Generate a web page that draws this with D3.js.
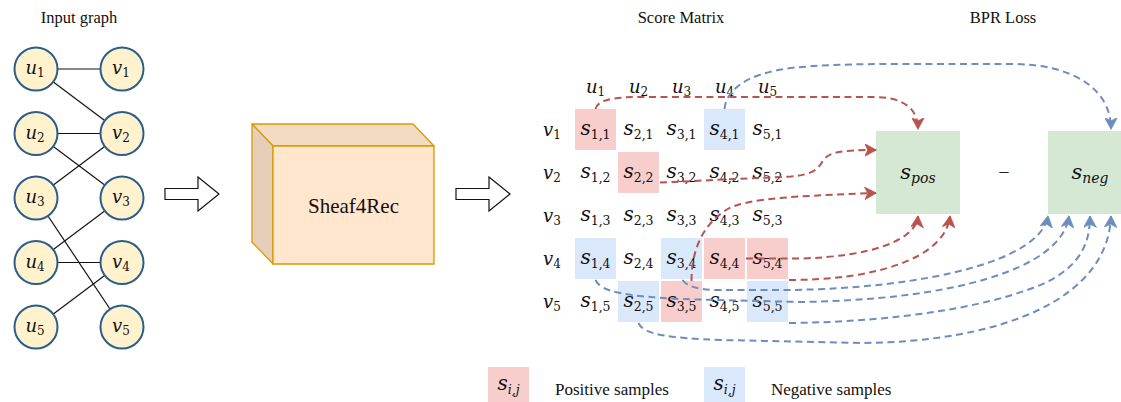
<!DOCTYPE html>
<html><head><meta charset="utf-8">
<script src="https://cdn.jsdelivr.net/npm/d3@7"></script>
<style>body{margin:0;background:#fff}svg{display:block}</style>
</head><body>
<svg id="c" width="1121" height="402"></svg>
<script>
// ---------------- data ----------------
const users = [1, 2, 3, 4, 5];
const items = [1, 2, 3, 4, 5];
const graphEdges = [[1,1],[1,2],[2,2],[2,3],[3,2],[3,5],[4,3],[4,4],[5,4]]; // [user, item]
const positiveCells = [[1,1],[2,2],[4,4],[5,4],[3,5]]; // [user i, item j]
const negativeCells = [[4,1],[1,4],[3,4],[2,5],[5,5]];
const panelTitles = ["Input graph", "Score Matrix", "BPR Loss"];
const modelName = "Sheaf4Rec";
const legendLabels = ["Positive samples", "Negative samples"];
const lossTerms = ["pos", "neg"];

(function () {
// ---------------- setup ----------------
const svg = d3.select("#c");
const SERIF = "'Liberation Serif','Times New Roman',serif";
const MATH = "'DejaVu Serif',serif";
const RED = "#b85450", BLUE = "#6c8ebf";
const PINK = "#f8cecc", LBLUE = "#dae8fc", GREEN = "#d5e8d4";

function mathText(g, x, y, base, sub, o = {}) {
  const fs = o.fs || 20, sfs = o.sfs || 12.5;
  const t = g.append("text").attr("x", x).attr("y", y)
    .attr("text-anchor", o.anchor || "middle")
    .attr("font-family", MATH).attr("fill", "#111");
  t.append("tspan").attr("font-style", "italic").attr("font-size", fs).text(base);
  if (sub != null) {
    t.append("tspan").attr("font-style", o.subItalic ? "italic" : "normal")
      .attr("font-size", sfs).attr("dy", o.sdy || 4).text(sub);
  }
  return t;
}

// titles
const titleX = [79, 681, 1003];
svg.selectAll("text.title").data(panelTitles).join("text")
  .attr("class", "title").attr("x", (d, i) => titleX[i]).attr("y", 23)
  .attr("text-anchor", "middle").attr("font-family", SERIF)
  .attr("font-size", 16.5).attr("fill", "#111").text(d => d);

// ---------------- input graph ----------------
const sideX = d3.scalePoint().domain(["u", "v"]).range([36, 122]);
const yNode = d3.scalePoint().domain(users).range([69, 327]);
const gGraph = svg.append("g");
gGraph.selectAll("line").data(graphEdges).join("line")
  .attr("x1", sideX("u")).attr("y1", d => yNode(d[0]))
  .attr("x2", sideX("v")).attr("y2", d => yNode(d[1]))
  .attr("stroke", "#111").attr("stroke-width", 1.2);
const nodes = users.map(u => ({s: "u", k: u})).concat(items.map(v => ({s: "v", k: v})));
gGraph.selectAll("circle").data(nodes).join("circle")
  .attr("cx", d => sideX(d.s)).attr("cy", d => yNode(d.k)).attr("r", 21.5)
  .attr("fill", "#fff2cc").attr("stroke", "#2b5d8c").attr("stroke-width", 2);
nodes.forEach(d => mathText(gGraph, sideX(d.s) - 1, yNode(d.k) + 5, d.s, d.k, {fs: 18, sfs: 12, sdy: 3}));

// ---------------- block arrows ----------------
const blockArrowX = [165, 456];
const arrowY = 194;
blockArrowX.forEach(x0 => {
  const pts = [[x0, arrowY - 5.5], [x0 + 33, arrowY - 5.5], [x0 + 33, arrowY - 17], [x0 + 54, arrowY],
               [x0 + 33, arrowY + 17], [x0 + 33, arrowY + 5.5], [x0, arrowY + 5.5]];
  svg.append("polygon").attr("points", pts.map(p => p.join(",")).join(" "))
    .attr("fill", "#fff").attr("stroke", "#111").attr("stroke-width", 1.2);
});

// ---------------- cube ----------------
const c = {x: 273, y: 146, w: 161, h: 118, dx: 21, dy: 22};
const gc = svg.append("g").attr("stroke", "#d79b00").attr("stroke-width", 1.3).attr("stroke-linejoin", "round");
gc.append("polygon").attr("fill", "#f2dbc2").attr("points",
  [[c.x - c.dx, c.y - c.dy], [c.x + c.w - c.dx, c.y - c.dy], [c.x + c.w, c.y], [c.x, c.y]].map(p => p.join(",")).join(" "));
gc.append("polygon").attr("fill", "#e6cfb8").attr("points",
  [[c.x - c.dx, c.y - c.dy], [c.x, c.y], [c.x, c.y + c.h], [c.x - c.dx, c.y + c.h - c.dy]].map(p => p.join(",")).join(" "));
gc.append("rect").attr("x", c.x).attr("y", c.y).attr("width", c.w).attr("height", c.h).attr("fill", "#ffe6cc");
svg.append("text").attr("x", c.x + c.w / 2).attr("y", c.y + c.h / 2 + 8)
  .attr("text-anchor", "middle").attr("font-family", SERIF).attr("font-size", 21)
  .attr("fill", "#111").text(modelName);

// ---------------- score matrix ----------------
const xCell = d3.scaleBand().domain(users).range([574, 789]);
const yCell = d3.scaleBand().domain(items).range([108, 323]);
const bw = xCell.bandwidth(), bh = yCell.bandwidth();
const gm = svg.append("g");
const cellRects = positiveCells.map(d => ({d, c: PINK})).concat(negativeCells.map(d => ({d, c: LBLUE})));
gm.selectAll("rect").data(cellRects).join("rect")
  .attr("x", o => xCell(o.d[0]) + 1).attr("y", o => yCell(o.d[1]) + 1)
  .attr("width", bw - 2).attr("height", bh - 2).attr("fill", o => o.c);

// loss boxes
const boxes = {
  pos: {x: 876, y: 131, w: 84, h: 83},
  neg: {x: 1048, y: 131, w: 84, h: 83}
};
lossTerms.forEach(k => {
  const b = boxes[k];
  svg.append("rect").attr("x", b.x).attr("y", b.y).attr("width", b.w).attr("height", b.h).attr("fill", GREEN);
});

// connectors
const defs = svg.append("defs");
[["r", RED], ["b", BLUE]].forEach(([id, col]) => {
  defs.append("marker").attr("id", "m" + id).attr("markerUnits", "userSpaceOnUse")
    .attr("viewBox", "0 0 12 13").attr("markerWidth", 12).attr("markerHeight", 13)
    .attr("refX", 11.5).attr("refY", 6.5).attr("orient", "auto")
    .append("path").attr("d", "M0,0 L12,6.5 L0,13 L3.2,6.5 Z").attr("fill", col).attr("stroke", col).attr("stroke-width", 0.6);
});
const cX = u => xCell(u) + bw / 2, cY = v => yCell(v) + bh / 2;
const cTop = v => yCell(v) + 1, cBot = v => yCell(v) + bh, cRight = u => xCell(u) + bw;
const P = boxes.pos, N = boxes.neg;
const redLinks = [
  (() => { const s = [cX(1), cTop(1)], e = [P.x + P.w / 2, P.y - 2], ln = 97;
    return `M${s} C${s[0]+2},${ln+3} ${s[0]+17},${ln} ${s[0]+45},${ln} L${e[0]-45},${ln} C${e[0]-14},${ln} ${e[0]},${ln+12} ${e[0]},${e[1]}`; })(),
  (() => { const s = [cRight(2), cY(2) + 10], e = [P.x, P.y + 19];
    return `M${s} L${s[0]+131},${s[1]-6} C${s[0]+153},${s[1]-8} ${s[0]+158},${s[1]-13} ${s[0]+163},${s[1]-22} C${s[0]+169},${e[1]+2} ${s[0]+181},${e[1]} ${e}`; })(),
  (() => { const s = [cX(3) + 10, yCell(5) + 1], e = [P.x, P.y + 62];
    return `M${s} C${s[0]},${s[1]-26} ${s[0]+8},${s[1]-56} ${s[0]+38},${s[1]-73} C${s[0]+58},${e[1]+6} ${s[0]+98},${e[1]+3} ${e}`; })(),
  (() => { const s = [cRight(4), cY(4)], e = [P.x + P.w / 2, P.y + P.h + 2];
    return `M${s} L${s[0]+55},${s[1]} C${s[0]+125},${s[1]-2} ${e[0]-2},${s[1]-18} ${e}`; })(),
  (() => { const s = [cRight(5), cBot(4)], e = [P.x + 74, P.y + P.h + 2];
    return `M${s} C${s[0]+82},${s[1]} ${e[0]-5},${s[1]-20} ${e}`; })()
];
const slot = k => N.x + k * N.w / 4;
const blueLinks = [
  (() => { const s = [cX(4), cTop(1)], e = [slot(3), N.y - 2], ln = 64;
    return `M${s} C${s[0]+2},${s[1]-19} ${s[0]+21},${ln+10} ${s[0]+66},${ln+4} C${s[0]+96},${ln+1} ${s[0]+126},${ln} ${s[0]+176},${ln} L${e[0]-100},${ln} C${e[0]-36},${ln} ${e[0]},${ln+26} ${e}`; })(),
  (() => { const s = [cX(3) + 1, cBot(4)], e = [slot(0), N.y + N.h + 2];
    return `M${s} C${s[0]+5},${s[1]+7} ${s[0]+17},${s[1]+10} ${s[0]+37},${s[1]+10} L${s[0]+107},${s[1]+10} C${s[0]+247},${s[1]+8} ${e[0]-7},${s[1]-20} ${e}`; })(),
  (() => { const s = [cX(1), cBot(4)], e = [slot(1), N.y + N.h + 2];
    return `M${s} C${s[0]+6},${s[1]+13} ${s[0]+34},${s[1]+16} ${s[0]+84},${s[1]+19} L${s[0]+204},${s[1]+22} C${s[0]+354},${s[1]+20} ${e[0]-7},${s[1]-10} ${e}`; })(),
  (() => { const s = [cRight(5), cBot(5)], e = [slot(2), N.y + N.h + 2];
    return `M${s} C${s[0]+112},${s[1]-1} ${s[0]+212},${s[1]-18} ${s[0]+262},${s[1]-43} C${s[0]+290},${s[1]-59} ${e[0]},${s[1]-78} ${e}`; })(),
  (() => { const s = [cX(2), cBot(5)], e = [slot(3), N.y + N.h + 2];
    return `M${s} C${s[0]+5},${s[1]+12} ${s[0]+32},${s[1]+15} ${s[0]+82},${s[1]+17} L${s[0]+222},${s[1]+20} C${s[0]+362},${s[1]+19} ${e[0]-3},${s[1]-23} ${e}`; })()
];
const gl = svg.append("g").attr("fill", "none").attr("stroke-width", 2).attr("stroke-dasharray", "7,4.5");
gl.selectAll("path.r").data(redLinks).join("path").attr("class", "r").attr("d", d => d)
  .attr("stroke", RED).attr("marker-end", "url(#mr)");
gl.selectAll("path.b").data(blueLinks).join("path").attr("class", "b").attr("d", d => d)
  .attr("stroke", BLUE).attr("marker-end", "url(#mb)");

// matrix texts
users.forEach(u => mathText(gm, cX(u), 93, "u", u, {fs: 18, sfs: 12, sdy: 3}));
items.forEach(v => mathText(gm, 552, cY(v) + 6, "v", v, {fs: 18, sfs: 12, sdy: 3}));
items.forEach(v => users.forEach(u => mathText(gm, cX(u), cY(v) + 5, "s", `${u},${v}`)));

// loss texts
lossTerms.forEach(k => {
  const b = boxes[k];
  mathText(svg, b.x + b.w / 2, b.y + b.h / 2 + 6, "s", k, {subItalic: true, fs: 21, sfs: 14});
});
svg.append("text").attr("x", 1004).attr("y", 179).attr("text-anchor", "middle")
  .attr("font-family", SERIF).attr("font-size", 20).attr("fill", "#222").text("\u2212");

// legend
const legendX = [488, 704];
legendLabels.forEach((lab, i) => {
  const x = legendX[i];
  svg.append("rect").attr("x", x).attr("y", 367).attr("width", 41).attr("height", 41).attr("fill", i ? LBLUE : PINK);
  mathText(svg, x + 20.5, 390, "s", "i,j", {subItalic: true});
  svg.append("text").attr("x", x + 67).attr("y", 395).attr("font-family", SERIF)
    .attr("font-size", 17).attr("fill", "#111").text(lab);
});
})();
</script>
</body></html>
